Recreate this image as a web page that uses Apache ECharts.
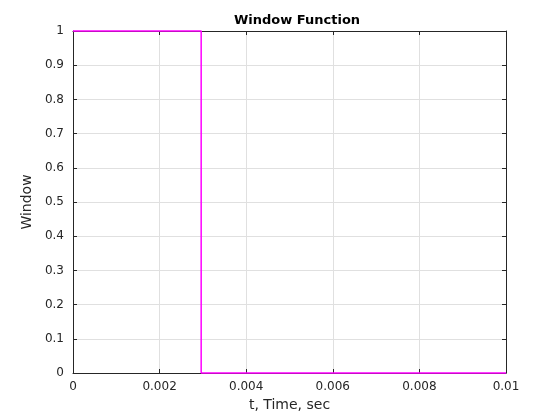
<!DOCTYPE html>
<html>
<head>
<meta charset="utf-8">
<script src="https://cdn.jsdelivr.net/npm/echarts@6/dist/echarts.min.js"></script>
<style>html,body{margin:0;padding:0;background:#fff}#c{width:560px;height:420px}</style>
</head>
<body>
<div id="c"></div>
<script>
const timeValues = [0, 0.00296, 0.00296, 0.01];
const windowValues = [1, 1, 0, 0];
const xTicks = [0, 0.002, 0.004, 0.006, 0.008, 0.01];
const yTicks = [0, 0.1, 0.2, 0.3, 0.4, 0.5, 0.6, 0.7, 0.8, 0.9, 1];

const chart = echarts.init(document.getElementById('c'), null, {renderer: 'canvas'});
const font = 'DejaVu Sans';
const axisCommon = {
  axisLine: {show: true, onZero: false, lineStyle: {color: '#262626', width: 1}},
  axisTick: {show: true, inside: true, length: 4, lineStyle: {color: '#262626'}},
};
chart.setOption({
  animation: false,
  backgroundColor: '#fff',
  title: {
    text: 'Window Function', left: 292, textAlign: 'center', top: 9,
    textStyle: {fontFamily: font, fontSize: 13, fontWeight: 'bold', color: '#000'}
  },
  grid: {left: 73, right: 54, top: 31, bottom: 47, show: false},
  xAxis: [{
    type: 'value', min: 0, max: 0.01, interval: 0.002, position: 'bottom',
    ...axisCommon,
    axisLabel: {fontFamily: font, fontSize: 12, color: '#262626', margin: 8,
      formatter: v => String(parseFloat(v.toFixed(6)))},
    splitLine: {show: true, lineStyle: {color: '#e0e0e0', width: 1}},
    name: 't, Time, sec', nameLocation: 'middle', nameGap: 25,
    nameTextStyle: {fontFamily: font, fontSize: 14, color: '#262626'}
  }, {
    type: 'value', min: 0, max: 0.01, interval: 0.002, position: 'top',
    ...axisCommon, axisLabel: {show: false}, splitLine: {show: false}
  }],
  yAxis: [{
    type: 'value', min: 0, max: 1, interval: 0.1, position: 'left',
    ...axisCommon,
    axisLabel: {fontFamily: font, fontSize: 12, color: '#262626', margin: 9,
      formatter: v => String(parseFloat(v.toFixed(6)))},
    splitLine: {show: true, lineStyle: {color: '#e0e0e0', width: 1}},
    name: 'Window', nameLocation: 'middle', nameGap: 31,
    nameTextStyle: {fontFamily: font, fontSize: 14, color: '#262626'}
  }, {
    type: 'value', min: 0, max: 1, interval: 0.1, position: 'right',
    ...axisCommon, axisLabel: {show: false}, splitLine: {show: false}
  }],
  series: [{
    type: 'line',
    data: timeValues.map((t, i) => [t, windowValues[i]]),
    showSymbol: false,
    lineStyle: {color: '#ff00ff', width: 1.5},
    clip: false,
    z: 10
  }]
});
</script>
</body>
</html>
